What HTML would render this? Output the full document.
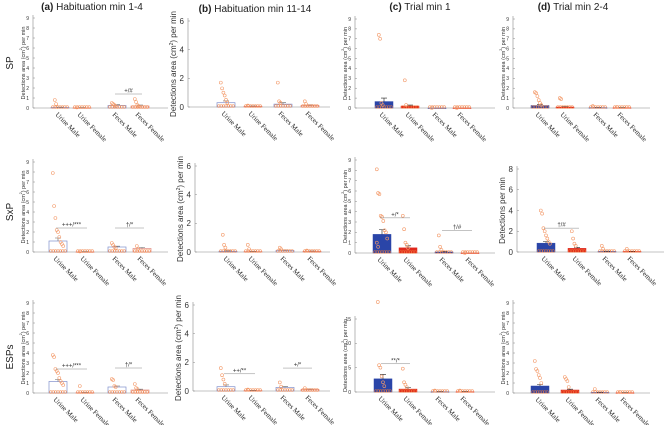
<!DOCTYPE html>
<html><head><meta charset="utf-8"><style>
html,body{margin:0;padding:0;background:#fff;}
svg{display:block;}
</style></head><body>
<svg id="fig" width="664" height="425" viewBox="0 0 664 425" xmlns="http://www.w3.org/2000/svg">
<g font-family="Liberation Sans, sans-serif" fill="#222">
<text x="92" y="10" font-size="10" text-anchor="middle"><tspan font-weight="bold">(a)</tspan> Habituation min 1-4</text>
<text x="255" y="12" font-size="10" text-anchor="middle"><tspan font-weight="bold">(b)</tspan> Habituation min 11-14</text>
<text x="420" y="10" font-size="10" text-anchor="middle"><tspan font-weight="bold">(c)</tspan> Trial min 1</text>
<text x="573" y="10" font-size="10" text-anchor="middle"><tspan font-weight="bold">(d)</tspan> Trial min 2-4</text>
<text transform="translate(13,63) rotate(-90)" font-size="10" text-anchor="middle">SP</text>
<text transform="translate(13,212) rotate(-90)" font-size="10" text-anchor="middle">SxP</text>
<text transform="translate(13,357) rotate(-90)" font-size="10" text-anchor="middle">ESPs</text>
</g>
<g id="panels"></g>
</svg>
<script>
const categories = ["Urine Male","Urine Female","Feces Male","Feces Female"];
// per-panel data
const meansA1=[0.05,0.02,0.25,0.2], semA1=[0.03,0.01,0.08,0.1];
const ptsA1=[[0.8,0.4,0.1],[0.05],[0.5,0.4,0.3,0.2],[0.9,0.6,0.3,0.2]];
const meansB1=[0.3,0.05,0.2,0.1], semB1=[0.12,0.02,0.1,0.05];
const ptsB1=[[1.7,1.3,1.0,0.8,0.5,0.3],[0.1],[1.7,0.4,0.3],[0.4,0.2]];
const meansC1=[0.65,0.2,0,0], semC1=[0.35,0.1,0,0];
const ptsC1=[[7.4,7.0,0.5,0.3],[2.8,0.3],[0],[0]];
const meansD1=[0.25,0.1,0.03,0.02], semD1=[0.1,0.04,0.02,0.01];
const ptsD1=[[1.6,1.5,1.2,0.8,0.5,0.3],[1.0,0.9],[0.2],[0.1]];
const meansA2=[1.1,0.02,0.5,0.35], semA2=[0.3,0.01,0.08,0.1];
const ptsA2=[[7.9,4.6,3.4,2.2,2.0,1.5,1.0,0.8,0.6],[0.05],[0.9,0.7,0.5,0.4],[0.6,0.3]];
const meansB2=[0.05,0.03,0.1,0.05], semB2=[0.03,0.02,0.04,0.02];
const ptsB2=[[1.2,0.5,0.3],[0.5,0.2],[0.3,0.2],[0.1]];
const meansC2=[1.8,0.5,0.1,0], semC2=[0.45,0.2,0.05,0];
const ptsC2=[[8.1,5.8,5.7,3.6,3.5,3.1,2.2,2.0,1.4,1.0,0.6],[3.6,2.3,1.0,0.8,0.5],[1.7,0.6,0.3],[0]];
const meansD2=[0.85,0.35,0.05,0.05], semD2=[0.15,0.1,0.03,0.02];
const ptsD2=[[4.0,3.7,2.3,2.0,1.6,1.3,1.0,0.8],[2.0,1.3,0.8,0.6],[0.6,0.3],[0.3]];
const meansA3=[1.15,0.03,0.6,0.3], semA3=[0.2,0.02,0.1,0.08];
const ptsA3=[[3.8,3.6,2.4,2.2,2.0,1.5,1.2,1.0,0.8],[0.7],[1.4,1.3,0.7,0.6],[0.9,0.5,0.4]];
const meansB3=[0.3,0.03,0.25,0.1], semB3=[0.12,0.02,0.06,0.04];
const ptsB3=[[1.6,1.1,0.8,0.5],[0.1],[0.6,0.3],[0.2]];
const meansC3=[2.7,0.6,0.05,0.05], semC3=[0.9,0.3,0.03,0.03];
const ptsC3=[[18.5,5.5,5.0,3.2,2.0,1.2],[4.8,2.0,1.5,1.0],[0.3],[0.3]];
const meansD3=[0.7,0.3,0.05,0.02], semD3=[0.15,0.08,0.03,0.01];
const ptsD3=[[3.2,2.4,2.2,1.8,1.5,1.0],[1.6,1.4,1.2,0.6],[0.4],[0.1]];
const ticks9=[0,1,2,3,4,5,6,7,8,9], ticks6=[0,2,4,6], ticks8=[0,2,4,6,8], ticks18=[0,5,10,15];

const panels=[
 {id:"a1",x0:33,xr:168,base:108,top:18,max:9,ticks:ticks9,cx:[60,82,117,140],m:meansA1,s:semA1,p:ptsA1,fill:false,big:false,sig:[[2,3,"+/#",1.4]]},
 {id:"b1",x0:188,xr:330,base:107,top:21,max:6,ticks:ticks6,cx:[226,253,283,310],m:meansB1,s:semB1,p:ptsB1,fill:false,big:true,sig:[]},
 {id:"c1",x0:355,xr:495,base:108,top:19,max:9,ticks:ticks9,cx:[384,410,437,462],m:meansC1,s:semC1,p:ptsC1,fill:true,big:false,sig:[]},
 {id:"d1",x0:513,xr:650,base:108,top:19,max:9,ticks:ticks9,cx:[540,565,598,622],m:meansD1,s:semD1,p:ptsD1,fill:true,big:false,sig:[]},
 {id:"a2",x0:33,xr:168,base:252,top:162,max:9,ticks:ticks9,cx:[58,85,117,142],m:meansA2,s:semA2,p:ptsA2,fill:false,big:false,sig:[[0,1,"+++/***",2.4],[2,3,"†/*",2.4]]},
 {id:"b2",x0:195,xr:330,base:252,top:166,max:6,ticks:ticks6,cx:[228,253,285,312],m:meansB2,s:semB2,p:ptsB2,fill:false,big:true,sig:[]},
 {id:"c2",x0:355,xr:495,base:253,top:160,max:9,ticks:ticks9,cx:[382,408,444,470],m:meansC2,s:semC2,p:ptsC2,fill:true,big:false,sig:[[0,1,"+/*",3.4],[2,3,"†/#",2.2]]},
 {id:"d2",x0:517,xr:664,base:252,top:169,max:8,ticks:ticks8,cx:[546,577,607,632],m:meansD2,s:semD2,p:ptsD2,fill:true,big:true,ylab:"Detections per min",sig:[[0,1,"†/#",2.3]]},
 {id:"a3",x0:33,xr:168,base:393,top:303,max:9,ticks:ticks9,cx:[58,85,117,140],m:meansA3,s:semA3,p:ptsA3,fill:false,big:false,sig:[[0,1,"+++/***",2.4],[2,3,"†/*",2.5]]},
 {id:"b3",x0:193,xr:330,base:391,top:305,max:6,ticks:ticks6,cx:[226,253,285,310],m:meansB3,s:semB3,p:ptsB3,fill:false,big:true,sig:[[0,1,"++/**",1.2],[2,3,"+/*",1.6]]},
 {id:"c3",x0:355,xr:495,base:392,top:319,max:15,ticks:ticks18,cx:[383,408,440,465],m:meansC3,s:semC3,p:ptsC3,fill:true,big:false,sig:[[0,1,"**/*",5.8]]},
 {id:"d3",x0:513,xr:650,base:393,top:303,max:9,ticks:ticks9,cx:[540,570,600,625],m:meansD3,s:semD3,p:ptsD3,fill:true,big:false,sig:[]}
];
const NS="http://www.w3.org/2000/svg";
const root=document.getElementById("panels");
function mk(tag,attrs,parent){const e=document.createElementNS(NS,tag);for(const k in attrs)e.setAttribute(k,attrs[k]);parent.appendChild(e);return e;}
panels.forEach(P=>{
  const g=mk("g",{},root);
  
  
  const y=v=>P.base-(v/P.max)*(P.base-P.top);
  const fs=P.big?8:5;
  // axes
  const ax=mk("line",{x1:P.x0,x2:P.x0,y1:P.top-3,y2:P.base,stroke:"#888","stroke-width":0.6},g);
  
  
  const bx=mk("line",{x1:P.x0,x2:P.xr,y1:P.base,y2:P.base,stroke:"#888","stroke-width":0.6},g);
  
  
  P.ticks.forEach(t=>{
    mk("line",{x1:P.x0,x2:P.x0+2,y1:y(t),y2:y(t),stroke:"#888","stroke-width":0.5},g);
    const tl=mk("text",{x:P.x0-4,y:y(t)+fs*0.35,"font-size":fs,"text-anchor":"end",fill:"#333","font-family":"Liberation Sans, sans-serif"},g);
    tl.textContent=t;
    
    
  });
  const yl=mk("text",{transform:`translate(${P.x0-(P.big?12:8)},${(P.top+P.base)/2}) rotate(-90)`,"font-size":P.big?8:5.5,"text-anchor":"middle",fill:"#333","font-family":"Liberation Sans, sans-serif"},g);
  if(P.ylab){yl.textContent=P.ylab;}else{yl.innerHTML='Detections area (cm<tspan font-size="'+(P.big?5:3.5)+'" dy="-3">2</tspan><tspan dy="3">) per min</tspan>';}
  
  
  const bw=P.fill?18:18;
  categories.forEach((c,i)=>{
    const col=i%2===0?"#2a45a8":"#e0281d";
    const hgt=P.base-y(P.m[i]);
    const bar=mk("rect",{x:P.cx[i]-bw/2,y:y(P.m[i]),width:bw,height:Math.max(hgt,0.5),fill:P.fill?col:"none",stroke:P.fill?col:(i%2===0?"#8090cc":"#e08a80"),"stroke-width":P.fill?0.5:0.7},g);
    
    
    if(P.s[i]>0){
      const e=mk("path",{d:`M${P.cx[i]},${y(P.m[i])}V${y(P.m[i]+P.s[i])}M${P.cx[i]-3},${y(P.m[i]+P.s[i])}H${P.cx[i]+3}`,stroke:P.fill?"#222":"#666","stroke-width":0.6,fill:"none"},g);
      
      
    }
    // zero points row
    for(let k=-3;k<=3;k++){
      const z=mk("circle",{cx:P.cx[i]+k*2.4,cy:P.base-1,r:1.3,fill:"none",stroke:"#f07a3c","stroke-width":0.6,opacity:0.8},g);
      
      
    }
    P.p[i].forEach((v,j)=>{
      const off=((j*37)%9-4)*1.3;
      const pt=mk("circle",{cx:P.cx[i]+off,cy:y(v),r:1.5,fill:"none",stroke:"#f39a6a","stroke-width":0.6},g);
      
      
    });
    const xl=mk("text",{transform:`translate(${P.cx[i]-5},${P.base+7}) rotate(45)`,"font-size":7,fill:"#222","font-family":"Liberation Serif, serif"},g);
    xl.textContent=c;
    
    
  });
  P.sig.forEach(S=>{
    const yy=y(S[3]);
    const l=mk("line",{x1:P.cx[S[0]]-2,x2:P.cx[S[1]]+2,y1:yy,y2:yy,stroke:"#888","stroke-width":0.5},g);
    
    
    const t=mk("text",{x:(P.cx[S[0]]+P.cx[S[1]])/2,y:yy-1.5,"font-size":6,"text-anchor":"middle",fill:"#333","font-family":"Liberation Sans, sans-serif"},g);
    t.textContent=S[2];
    
    
  });
});
</script>
</body></html>
